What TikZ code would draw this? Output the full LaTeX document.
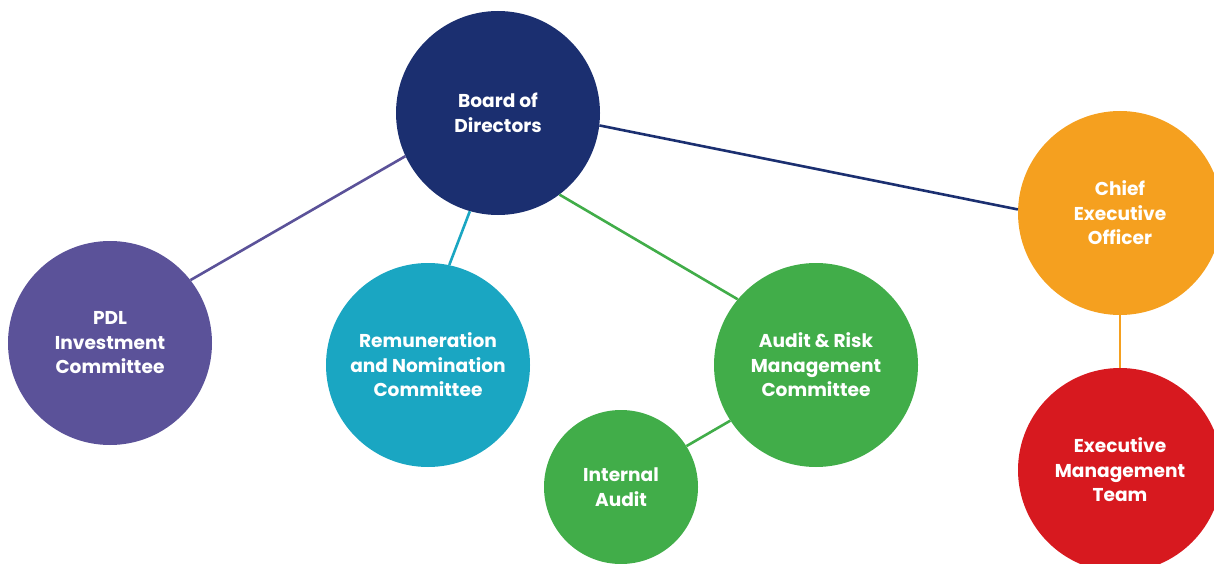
\documentclass[tikz,border=0pt]{standalone}
\usepackage{fontspec}
\setmainfont{Poppins}[BoldFont={* Bold}]
\definecolor{navy}{HTML}{1B2F70}
\definecolor{purp}{HTML}{5B5299}
\definecolor{teal}{HTML}{1AA6C2}
\definecolor{grn}{HTML}{41AD49}
\definecolor{orng}{HTML}{F5A01F}
\definecolor{rd}{HTML}{D7191F}
\begin{document}
\begin{tikzpicture}[x=1pt,y=-1pt,
  bubble/.style={circle,inner sep=0pt,minimum size=204pt,text=white,align=center,
    font=\fontsize{18.6}{24.5}\selectfont\bfseries},
  link/.style={line width=2.6pt}]
\useasboundingbox (0,0) rectangle (1214,564);
\begin{scope}
\clip (0,0) rectangle (1214,564);
\node[bubble,fill=navy] (bod) at (498,113) {Board of\\Directors};
\node[bubble,fill=purp] (pdl) at (110,343) {PDL\\Investment\\Committee};
\node[bubble,fill=teal] (rem) at (428,365) {Remuneration\\and Nomination\\Committee};
\node[bubble,fill=grn] (arm) at (816,365) {Audit \& Risk\\Management\\Committee};
\node[bubble,fill=grn,minimum size=154pt] (ia) at (621,487) {Internal\\Audit};
\node[bubble,fill=orng] (ceo) at (1120,213) {Chief\\Executive\\Officer};
\node[bubble,fill=rd] (emt) at (1120,470) {Executive\\Management\\Team};
\draw[link,purp] (bod.205) -- (pdl.38);
\draw[link,teal] (bod.254.5) -- (rem.78);
\draw[link,grn] (bod.307.7) -- (arm.140.4);
\draw[link,navy] (bod.-7.6) -- (ceo.178);
\draw[link,grn] (arm.213) -- (ia.32.6);
\draw[link,orng] (ceo.south) -- (emt.north);
\end{scope}
\end{tikzpicture}
\end{document}
